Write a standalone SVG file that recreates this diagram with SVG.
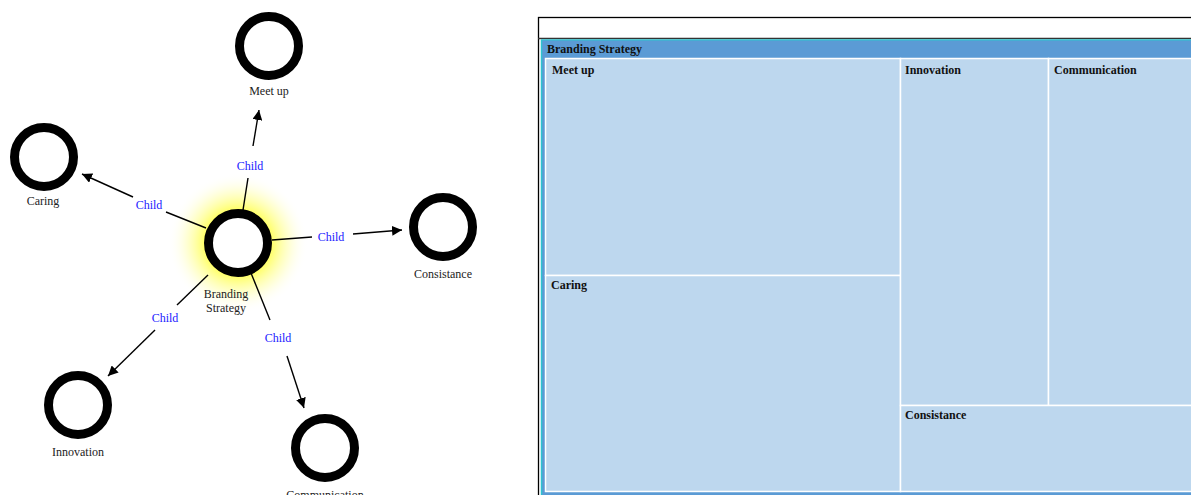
<svg xmlns="http://www.w3.org/2000/svg" width="1191" height="495" viewBox="0 0 1191 495">
  <style>
    .node circle { fill: #ffffff; stroke: #000000; stroke-width: 9; }
    .lbl { font-family: "Liberation Serif", "DejaVu Serif", serif; font-size: 12px; fill: #222222; text-anchor: middle; }
    .edge line { stroke: #000000; stroke-width: 1.4; }
    .elbl { font-family: "Liberation Serif", "DejaVu Serif", serif; font-size: 12px; fill: #1a1aff; text-anchor: middle; }
    .cell { fill: #bdd7ee; stroke: #ffffff; stroke-width: 1.5; }
    .ctitle { font-family: "Liberation Serif", "DejaVu Serif", serif; font-size: 12px; font-weight: bold; fill: #111111; }
  </style>
  <defs>
    <radialGradient id="glow" cx="0.5" cy="0.5" r="0.5">
      <stop offset="0" stop-color="#ffff00" stop-opacity="1"/>
      <stop offset="0.45" stop-color="#ffff20" stop-opacity="0.75"/>
      <stop offset="0.75" stop-color="#ffff80" stop-opacity="0.3"/>
      <stop offset="1" stop-color="#ffffff" stop-opacity="0"/>
    </radialGradient>
    <marker id="arrow" viewBox="0 0 10 10" refX="10" refY="5" markerWidth="10" markerHeight="10" markerUnits="userSpaceOnUse" orient="auto">
      <path d="M0,0 L10,5 L0,10 z" fill="#000000"/>
    </marker>
  </defs>

  <rect width="1191" height="495" fill="#ffffff"/>

  <!-- highlight halo behind the selected node -->
  <circle id="halo" cx="238" cy="243" r="70" style="fill:url(#glow);stroke:none"/>

  <!-- connectors -->
  <g id="connectors" class="edge">
    <line x1="243" y1="210" x2="248" y2="178"/>
    <line x1="253" y1="146" x2="259" y2="110" marker-end="url(#arrow)"/>
    <text class="elbl" x="250" y="170">Child</text>

    <line x1="206" y1="228" x2="166" y2="212"/>
    <line x1="133" y1="197" x2="82" y2="174" marker-end="url(#arrow)"/>
    <text class="elbl" x="149" y="209">Child</text>

    <line x1="272" y1="240" x2="312" y2="237"/>
    <line x1="353" y1="234" x2="402" y2="230" marker-end="url(#arrow)"/>
    <text class="elbl" x="331" y="241">Child</text>

    <line x1="208" y1="275" x2="177" y2="305"/>
    <line x1="155" y1="330" x2="108" y2="376" marker-end="url(#arrow)"/>
    <text class="elbl" x="165" y="322">Child</text>

    <line x1="251" y1="273" x2="270" y2="320"/>
    <line x1="287" y1="356" x2="304" y2="408" marker-end="url(#arrow)"/>
    <text class="elbl" x="278" y="342">Child</text>
  </g>

  <!-- graph nodes -->
  <g id="node-branding" class="node">
    <circle cx="238" cy="243" r="29.5"/>
    <text class="lbl" x="226" y="298">Branding</text>
    <text class="lbl" x="226" y="312">Strategy</text>
  </g>
  <g id="node-meetup" class="node">
    <circle cx="269" cy="46" r="29.5"/>
    <text class="lbl" x="269" y="95">Meet up</text>
  </g>
  <g id="node-caring" class="node">
    <circle cx="44" cy="157" r="29.5"/>
    <text class="lbl" x="43" y="205">Caring</text>
  </g>
  <g id="node-consistance" class="node">
    <circle cx="443" cy="227" r="29.5"/>
    <text class="lbl" x="443" y="278">Consistance</text>
  </g>
  <g id="node-innovation" class="node">
    <circle cx="78" cy="405" r="29.5"/>
    <text class="lbl" x="78" y="456">Innovation</text>
  </g>
  <g id="node-communication" class="node">
    <circle cx="325" cy="448" r="29.5"/>
    <text class="lbl" x="325" y="499">Communication</text>
  </g>

  <!-- treemap panel -->
  <g id="treemap">
    <rect x="538.5" y="17.5" width="660" height="490" fill="#ffffff" stroke="#000000" stroke-width="1.3"/>
    <line x1="538" y1="38.5" x2="1191" y2="38.5" stroke="#333333" stroke-width="1.3"/>
    <rect x="541" y="40" width="655" height="460" fill="#5b9bd5"/>
    <line x1="541.5" y1="40" x2="541.5" y2="495" stroke="#2ec4d0" stroke-width="1.5"/>
    <line x1="541" y1="39.8" x2="1191" y2="39.8" stroke="#2ec4d0" stroke-width="1.2"/>
    <text class="ctitle" x="547" y="53">Branding Strategy</text>
  </g>
  <g id="cell-meetup">
    <rect class="cell" x="545.5" y="58.5" width="355" height="217"/>
    <text class="ctitle" x="552" y="74">Meet up</text>
  </g>
  <g id="cell-caring">
    <rect class="cell" x="545.5" y="275.5" width="355" height="216"/>
    <text class="ctitle" x="551" y="289">Caring</text>
  </g>
  <g id="cell-innovation">
    <rect class="cell" x="900.5" y="58.5" width="148" height="347"/>
    <text class="ctitle" x="905" y="74">Innovation</text>
  </g>
  <g id="cell-communication">
    <rect class="cell" x="1048.5" y="58.5" width="150" height="347"/>
    <text class="ctitle" x="1054" y="74">Communication</text>
  </g>
  <g id="cell-consistance">
    <rect class="cell" x="900.5" y="405.5" width="298" height="86"/>
    <text class="ctitle" x="905" y="419">Consistance</text>
  </g>
</svg>
